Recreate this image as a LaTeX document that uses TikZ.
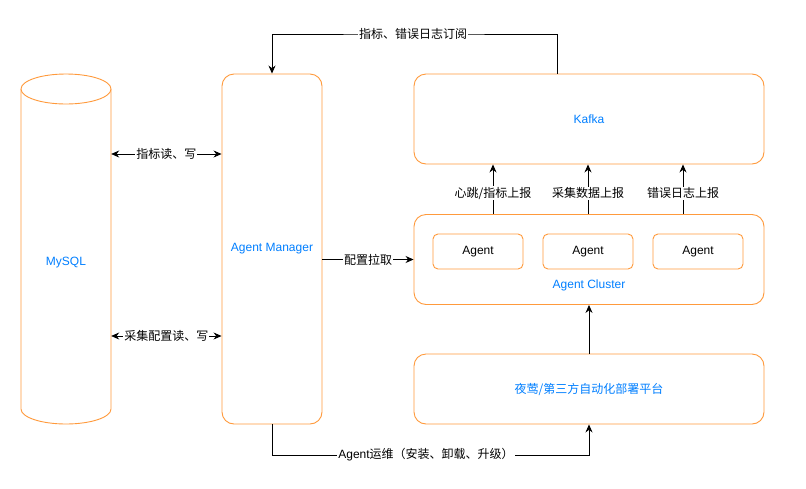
\documentclass[tikz,border=0pt]{standalone}
\usepackage{fontspec}
\setmainfont{Liberation Sans}
\newfontfamily\cjk{Noto Sans CJK SC}
\usetikzlibrary{arrows.meta,calc}
\definecolor{boxor}{HTML}{FF9A3C}
\definecolor{txtblue}{HTML}{007FFF}
\begin{document}
\begin{tikzpicture}[x=1pt,y=-1pt,
  font=\fontsize{12}{14}\selectfont,
  bigbox/.style={draw=boxor,line width=0.9pt,rounded corners=12pt,fill=white,text=txtblue},
  agentbox/.style={draw=boxor,line width=0.9pt,rounded corners=5pt,minimum width=90pt,minimum height=35pt,fill=white},
  arr/.style={draw=black,line width=0.8pt,-{Stealth[length=8pt,width=7pt]}},
  darr/.style={draw=black,line width=0.8pt,{Stealth[length=8pt,width=7pt]}-{Stealth[length=8pt,width=7pt]}},
  lbl/.style={fill=white,inner sep=1pt,text=black}]
\useasboundingbox (0,0) rectangle (806,488);
\fill[white] (0,0) rectangle (806,488);

% MySQL cylinder
\node[minimum width=90pt,minimum height=350pt,inner sep=0pt] (mysql) at (66,249) {};
\draw[boxor,line width=0.9pt,fill=white] (21,89) -- (21,409) arc[start angle=180,end angle=360,x radius=45pt,y radius=15pt] -- (111,89);
\draw[boxor,line width=0.9pt,fill=white] (66,89) ellipse[x radius=45pt,y radius=15pt];
\node[text=txtblue] at (66,263) {MySQL};

% Agent Manager
\node[bigbox,minimum width=100pt,minimum height=350pt] (mgr) at (272,249) {Agent Manager};

% Kafka
\node[bigbox,minimum width=350pt,minimum height=90pt] (kafka) at (589,119) {Kafka};

% Agent Cluster
\node[bigbox,minimum width=350pt,minimum height=90pt] (cluster) at (589,259.5) {};
\node[text=txtblue] (clbl) at (589,285) {Agent Cluster};
\node[agentbox] (a1) at (478,251.5) {Agent};
\node[agentbox] (a2) at (588,251.5) {Agent};
\node[agentbox] (a3) at (698,251.5) {Agent};

% Platform
\node[bigbox,minimum width=350pt,minimum height=70pt] (plat) at (589,389) {\cjk 夜莺/第三方自动化部署平台};

% MySQL <-> Manager
\draw[darr] (mysql.east |- 0,154) -- (mgr.west |- 0,154) node[midway,lbl] {\cjk 指标读、写};
\draw[darr] (mysql.east |- 0,336) -- (mgr.west |- 0,336) node[midway,lbl] {\cjk 采集配置读、写};

% Config pull
\draw[arr] (cluster.west -| mgr.east) -- (cluster.west) node[midway,lbl] {\cjk 配置拉取};

% Top subscription
\coordinate (topc) at (413,34);
\draw[arr] ([xshift=-32pt]kafka.north) |- (topc) -| (mgr.north);
\node[lbl] at (topc) {\cjk 指标、错误日志订阅};

% Bottom ops
\coordinate (botc) at (426,455);
\draw[arr] (mgr.south) |- (botc) -| (plat.south);
\node[lbl] at (botc) {Agent{\cjk 运维（安装、卸载、升级）}};

% Reports
\draw[arr] ([xshift=-96pt]cluster.north) -- ([xshift=-96pt]kafka.south) node[pos=0.42,lbl] {\cjk 心跳/指标上报};
\draw[arr] ([xshift=-1pt]cluster.north) -- ([xshift=-1pt]kafka.south) node[pos=0.42,lbl] {\cjk 采集数据上报};
\draw[arr] ([xshift=94pt]cluster.north) -- ([xshift=94pt]kafka.south) node[pos=0.42,lbl] {\cjk 错误日志上报};

% Platform -> cluster
\draw[arr] (plat.north) -- (cluster.south);
\end{tikzpicture}
\end{document}
